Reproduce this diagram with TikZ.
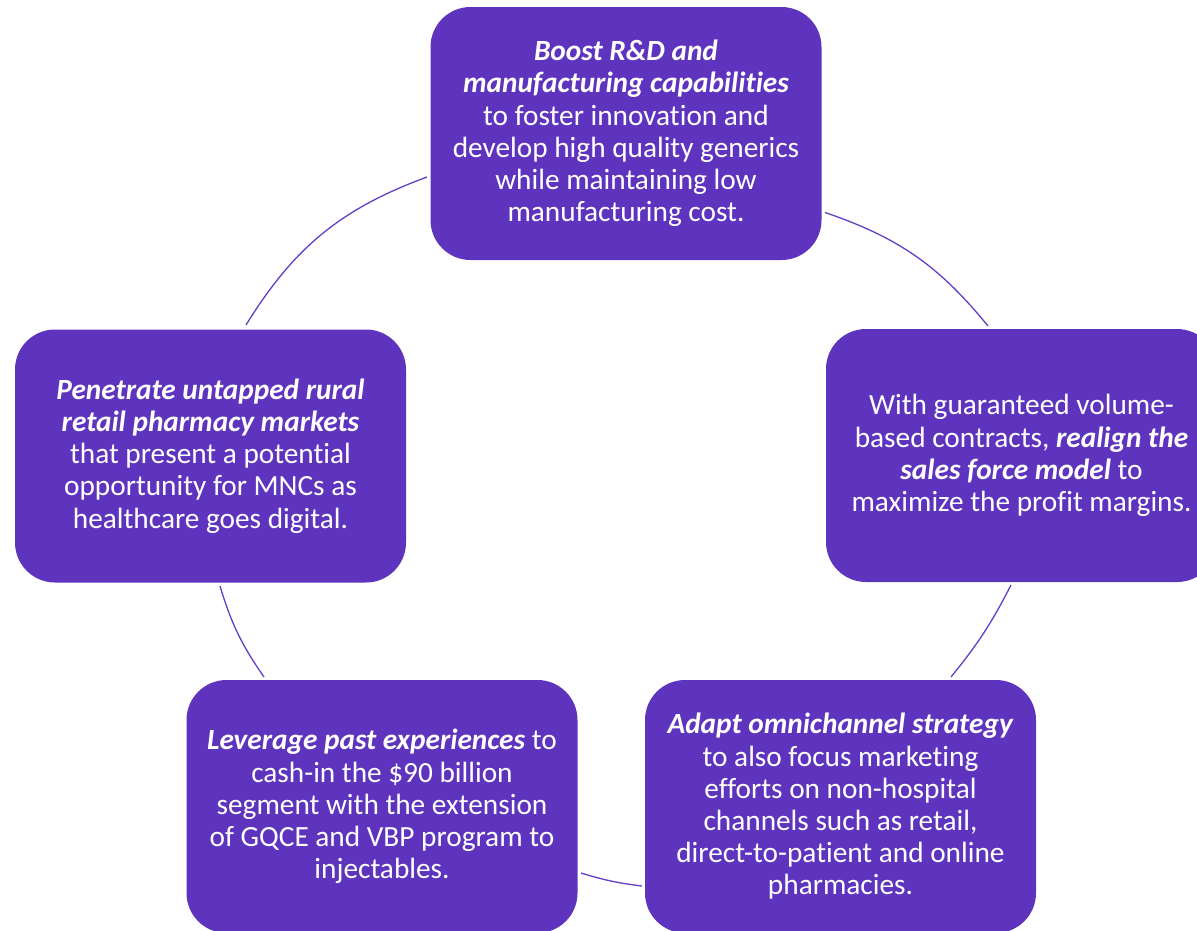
\documentclass[tikz,border=0pt]{standalone}
\usepackage{fontspec}
\setmainfont{Carlito}[Ligatures=CommonOff]
\definecolor{cyclefill}{RGB}{94,52,190}
\definecolor{cycleline}{RGB}{100,62,200}
\begin{document}
\begin{tikzpicture}[x=1pt,y=-1pt,
  stagebox/.style={draw=none, fill=cyclefill, rounded corners=40pt,
    minimum width=391pt, minimum height=253pt, inner sep=0pt,
    text=white, align=center,
    font=\fontsize{29.3}{32.2}\selectfont},
  ring/.style={draw=cycleline, line width=1.3pt}]
\useasboundingbox (0,0) rectangle (1197,930);
\clip (0,0) rectangle (1197,930);

% the five stages
\node[stagebox] (rd) at (626,133.5)
  {\textbf{\textit{Boost R\&D and}}\\
   \textbf{\textit{manufacturing capabilities}}\\
   to foster innovation and\\
   develop high quality generics\\
   while maintaining low\\
   manufacturing cost.};
\node[stagebox] (sales) at (1021.5,455.5)
  {With guaranteed volume-\\
   based contracts, \textbf{\textit{realign the}}\\
   \textbf{\textit{sales force model}} to\\
   maximize the profit margins.};
\node[stagebox] (omni) at (840.5,806.5)
  {\textbf{\textit{Adapt omnichannel strategy}}\\
   to also focus marketing\\
   efforts on non-hospital\\
   channels such as retail,\\
   direct-to-patient and online\\
   pharmacies.};
\node[stagebox] (past) at (382,806.5)
  {\textbf{\textit{Leverage past experiences}} to\\
   cash-in the \$90 billion\\
   segment with the extension\\
   of GQCE and VBP program to\\
   injectables.};
\node[stagebox] (rural) at (210.5,456)
  {\textbf{\textit{Penetrate untapped rural}}\\
   \textbf{\textit{retail pharmacy markets}}\\
   that present a potential\\
   opportunity for MNCs as\\
   healthcare goes digital.};

% arc end points on the box borders
\coordinate (rdR) at (825,212.5);
\coordinate (salesT) at (988,326);
\coordinate (salesB) at (1011,585);
\coordinate (omniT) at (951,677);
\coordinate (omniL) at (642,886);
\coordinate (pastR) at (581,873);
\coordinate (pastT) at (264,677);
\coordinate (ruralB) at (220,586);
\coordinate (ruralT) at (246,325);
\coordinate (rdL) at (427,177);

% connecting ring, walked clockwise
\draw[ring] (rdR) to[bend left=16] (salesT);
\draw[ring] (salesB) to[bend left=6] (omniT);
\draw[ring] (omniL) to[bend left=5] (pastR);
\draw[ring] (pastT) to[bend left=9] (ruralB);
\draw[ring] (ruralT) to[bend left=19] (rdL);
\end{tikzpicture}
\end{document}
